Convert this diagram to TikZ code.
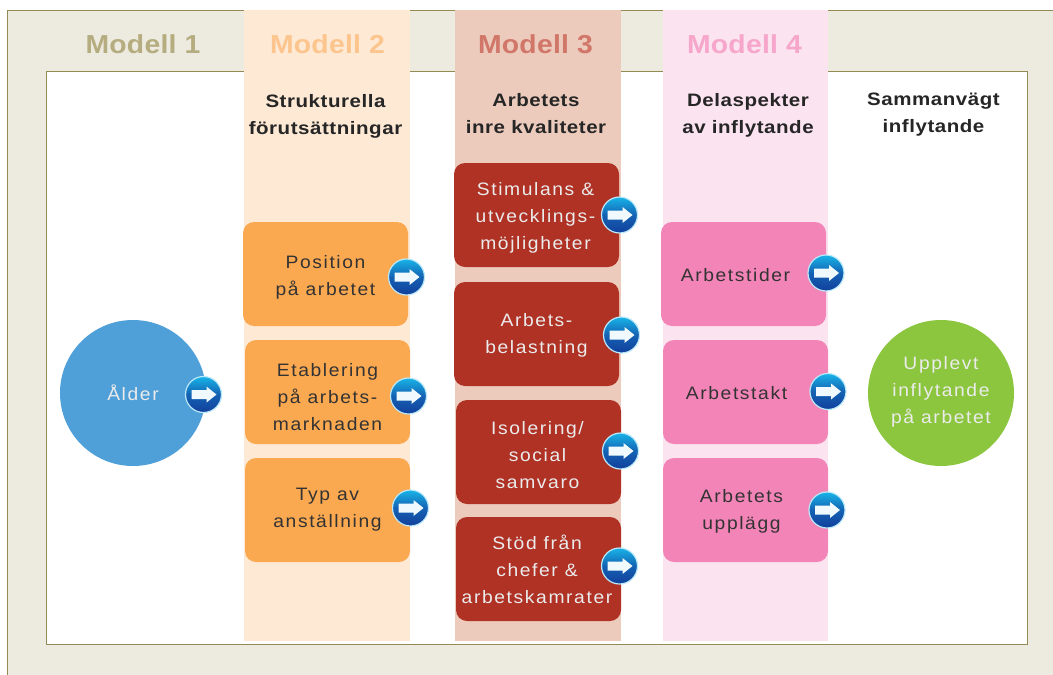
\documentclass[tikz,border=0pt]{standalone}
\usepackage{fontspec}
\setmainfont{Liberation Sans}
\newfontfamily\boxfont[LetterSpace=9,FakeStretch=1.07]{Liberation Sans}
\newfontfamily\headfont[LetterSpace=3,FakeStretch=1.14]{Liberation Sans}
\newfontfamily\titlefont[LetterSpace=1,FakeStretch=1.09]{Liberation Sans}
\usetikzlibrary{positioning}
\definecolor{panelbg}{HTML}{EDEBE0}
\definecolor{panelline}{HTML}{948A54}
\definecolor{modelone}{HTML}{B5AC80}
\definecolor{modeltwo}{HTML}{FCC58E}
\definecolor{modelthree}{HTML}{D0776A}
\definecolor{modelfour}{HTML}{F7A6CB}
\definecolor{bandtwo}{HTML}{FEE9D5}
\definecolor{bandthree}{HTML}{ECCBBC}
\definecolor{bandfour}{HTML}{FBE3EF}
\definecolor{boxorange}{HTML}{FBA951}
\definecolor{boxred}{HTML}{AF3225}
\definecolor{boxpink}{HTML}{F384B7}
\definecolor{circblue}{HTML}{4F9FD8}
\definecolor{circgreen}{HTML}{8CC63F}
\definecolor{badgetop}{HTML}{18B4E8}
\definecolor{badgebot}{HTML}{123F9C}
\tikzset{
    band/.style={minimum width=166pt,minimum height=631pt,inner sep=0pt,anchor=north west},
    modeltitle/.style={font=\fontsize{26}{26}\titlefont\bfseries,inner sep=0pt},
    heading/.style={font=\fontsize{18}{27}\headfont\bfseries,text=black!85,align=center,inner sep=0pt},
    itembox/.style={rounded corners=11pt,minimum width=165pt,minimum height=104pt,inner sep=0pt},
    boxtext/.style={align=center,inner sep=0pt,font=\fontsize{18}{27}\boxfont},
    darktext/.style={boxtext,text=black!80},
    lighttext/.style={boxtext,text=white!92!black},
    orangebox/.style={itembox,fill=boxorange},
    redbox/.style={itembox,fill=boxred},
    pinkbox/.style={itembox,fill=boxpink},
    roundbox/.style={circle,minimum size=146pt,inner sep=0pt},
    badge/.style={circle,minimum size=36pt,inner sep=0pt,draw=white!70!badgetop,line width=1.2pt,
        top color=badgetop,bottom color=badgebot,middle color=badgebot!70!badgetop,
        path picture={\fill [white!94!cyan,shift={(path picture bounding box.center)}]
            (-12,-4.5) -- (3,-4.5) -- (3,-8) -- (13,0) -- (3,8) -- (3,4.5) -- (-12,4.5) -- cycle;}}
}
\begin{document}
\begin{tikzpicture}[x=1pt,y=-1pt,node distance=118pt]
    \useasboundingbox (0,0) rectangle (1053,675);
    % panel and inner frame
    \path [fill=panelbg] (7.5,10.5) rectangle (1053,675);
    \draw [panelline,line width=1pt] (1053,10.5) -- (7.5,10.5) -- (7.5,675);
    \draw [panelline,line width=1pt,fill=white] (46,71.5) rectangle (1027,644.5);

    \node [band,fill=bandtwo]   (band2) at (244,10) {};
    \node [band,fill=bandthree] (band3) at (455,10) {};
    \node [band,fill=bandfour,minimum width=165pt] (band4) at (663,10) {};

    \node [modeltitle,text=modelone]   (m1) at (143,44.5) {Modell 1};
    \node [modeltitle,text=modeltwo]   (m2) at (327.5,44.5) {Modell 2};
    \node [modeltitle,text=modelthree] (m3) at (535.5,44.5) {Modell 3};
    \node [modeltitle,text=modelfour]  (m4) at (744.5,44.5) {Modell 4};

    \node [heading] (h2) at (325.5,116) {Strukturella\\förutsättningar};
    \node [heading] (h3) at (536,114) {Arbetets\\inre kvaliteter};
    \node [heading] (h4) at (748,115) {Delaspekter\\av inflytande};
    \node [heading] (h5) at (933.5,115) {Sammanvägt\\inflytande};

    \node [roundbox,fill=circblue,label={[lighttext]center:Ålder}] (alder) at (133,393) {};
    \node [roundbox,fill=circgreen,label={[lighttext,yshift=1pt]center:{Upplevt\\inflytande\\på arbetet}}] (upplevt) at (941,393) {};

    \node [orangebox,label={[darktext,yshift=-3pt]center:{Position\\på arbetet}}] (position) at (325.5,274) {};
    \node [orangebox,label={[darktext,yshift=-5pt]center:{Etablering\\på arbets-\\marknaden}}] [below of=position,xshift=2pt] (etablering) {};
    \node [orangebox,label={[darktext]center:{Typ av\\anställning}}] [below of=etablering] (typ) {};

    \node [redbox,label={[lighttext,xshift=-1pt,yshift=-3pt]center:{Stimulans \&\\utvecklings-\\möjligheter}}] (stimulans) at (536.5,215) {};
    \node [redbox,label={[lighttext,yshift=-1pt]center:{Arbets-\\belastning}}] [below of=stimulans,yshift=-1pt] (belastning) {};
    \node [redbox,label={[lighttext,xshift=-1pt,yshift=-3pt]center:{Isolering/\\social\\samvaro}}] [below of=belastning,xshift=2pt] (isolering) {};
    \node [redbox,label={[lighttext,xshift=-1.5pt]center:{Stöd från\\chefer \&\\arbetskamrater}}] [below of=isolering,yshift=1pt] (stod) {};

    \node [pinkbox,label={[darktext,xshift=-8pt,yshift=-1pt]center:Arbetstider}] (tider) at (743.5,274) {};
    \node [pinkbox,label={[darktext,xshift=-9pt,yshift=-1pt]center:Arbetstakt}] [below of=tider,xshift=2pt] (takt) {};
    \node [pinkbox,label={[darktext,xshift=-4pt,yshift=-1pt]center:{Arbetets\\upplägg}}] [below of=takt] (upplagg) {};

    % badges
    \node [badge] (b1) at (203.5,394.5) {};
    \node [badge] (b2) at (406.5,277) {};
    \node [badge] (b3) at (408.5,396) {};
    \node [badge] (b4) at (410.5,508) {};
    \node [badge] (b5) at (619.5,215) {};
    \node [badge] (b6) at (621.5,335) {};
    \node [badge] (b7) at (620.5,451) {};
    \node [badge] (b8) at (619.5,566) {};
    \node [badge] (b9) at (826,273) {};
    \node [badge] (b10) at (828,391.5) {};
    \node [badge] (b11) at (827,510) {};
\end{tikzpicture}
\end{document}
